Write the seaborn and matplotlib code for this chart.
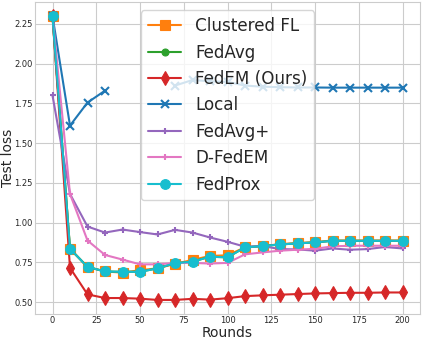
import numpy as np
import pandas as pd
import matplotlib
matplotlib.use("Agg")
import matplotlib.pyplot as plt
import seaborn as sns

rounds = list(range(0, 201, 10))

clustered_fl = [2.30, 0.835, 0.721, 0.692, 0.685, 0.700, 0.712, 0.740, 0.765, 0.790, 0.794,
                0.844, 0.852, 0.864, 0.871, 0.877, 0.887, 0.887, 0.887, 0.887, 0.887]
fedavg = [2.30, 0.835, 0.721, 0.692, 0.690, 0.690, 0.712, 0.744, 0.754, 0.785, 0.781,
          0.844, 0.852, 0.862, 0.869, 0.875, 0.885, 0.885, 0.885, 0.885, 0.885]
fedem = [2.30, 0.715, 0.548, 0.525, 0.525, 0.521, 0.513, 0.513, 0.520, 0.515, 0.524,
         0.537, 0.542, 0.546, 0.550, 0.554, 0.556, 0.558, 0.558, 0.560, 0.560]
local = [2.30, 1.61, 1.755, 1.83, np.nan, np.nan, np.nan, 1.862, 1.897, 1.889, 1.885,
         1.862, 1.855, 1.852, 1.850, 1.850, 1.849, 1.849, 1.849, 1.849, 1.849]
fedavg_plus = [1.80, 1.18, 0.975, 0.937, 0.956, 0.940, 0.925, 0.954, 0.937, 0.906, 0.879,
               0.848, 0.852, 0.833, 0.831, 0.823, 0.837, 0.829, 0.833, 0.846, 0.837]
d_fedem = [2.30, 1.18, 0.887, 0.796, 0.767, 0.737, 0.737, 0.746, 0.746, 0.742, 0.746,
           0.800, 0.812, 0.823, 0.829, 0.835, 0.850, 0.854, 0.854, 0.854, 0.854]
fedprox = [2.30, 0.835, 0.721, 0.692, 0.690, 0.690, 0.712, 0.744, 0.754, 0.785, 0.781,
           0.844, 0.852, 0.862, 0.869, 0.875, 0.885, 0.885, 0.885, 0.885, 0.885]

series = [
    ("Clustered FL", clustered_fl, "#ff7f0e", "s", 7),
    ("FedAvg", fedavg, "#2ca02c", "o", 5),
    ("FedEM (Ours)", fedem, "#d62728", "d", 7),
    ("Local", local, "#1f77b4", "x", 5.5),
    ("FedAvg+", fedavg_plus, "#9467bd", "+", 5),
    ("D-FedEM", d_fedem, "#e377c2", "+", 5),
    ("FedProx", fedprox, "#17becf", "o", 7),
]

sns.set_style("whitegrid")
plt.rcParams["font.family"] = ["DejaVu Sans"]

fig = plt.figure(figsize=(4.23, 3.41), dpi=100)
ax = fig.add_axes([35 / 423, 1 - 314 / 341, 385 / 423, 312 / 341])

for name, vals, color, marker, ms in series:
    df = pd.DataFrame({"Rounds": rounds, "loss": vals})
    valid = df["loss"].notna()
    seg_id = (~valid).cumsum()
    first = True
    for _, seg in df[valid].groupby(seg_id[valid]):
        sns.lineplot(data=seg, x="Rounds", y="loss", ax=ax, color=color,
                     marker=marker, markersize=ms, linewidth=1.5,
                     markeredgewidth=1.5 if marker in ("x", "+") else 0.8,
                     markeredgecolor=color,
                     label=name if first else None, legend=False)
        first = False

ax.set_xlim(-10, 210)
ax.set_ylim(0.4245, 2.388)
ax.set_xticks([0, 25, 50, 75, 100, 125, 150, 175, 200])
ax.set_yticks([0.50, 0.75, 1.00, 1.25, 1.50, 1.75, 2.00, 2.25])
ax.set_yticklabels(["0.50", "0.75", "1.00", "1.25", "1.50", "1.75", "2.00", "2.25"])
ax.tick_params(labelsize=6, pad=1.5, length=0)
ax.set_xlabel("Rounds", fontsize=10, labelpad=0.5)
ax.set_ylabel("Test loss", fontsize=10)
ax.yaxis.set_label_coords(-0.052, 0.5)

leg = ax.legend(loc="upper center", fontsize=12.1, framealpha=0.8)
fig.savefig("out.png", dpi=100)
